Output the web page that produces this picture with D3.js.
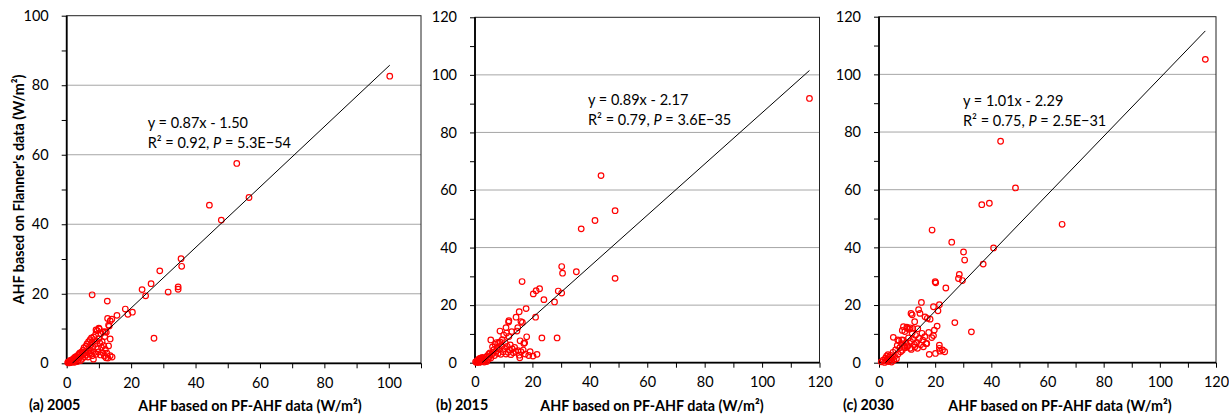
<!DOCTYPE html>
<html>
<head>
<meta charset="utf-8">
<script src="https://cdn.jsdelivr.net/npm/d3@7"></script>
<style>
body { margin: 0; background: #fff; }
text { font-family: Lato, "Open Sans", sans-serif; fill: #000; }
</style>
</head>
<body>
<script>
// values
var panelNames = ["(a) 2005", "(b) 2015", "(c) 2030"];
var xMax = [110, 120, 120],
    yMax = [100, 120, 120];
var slopes = [0.87, 0.89, 1.01],
    intercepts = [-1.50, -2.17, -2.29];
var eqLabels = ["y = 0.87x - 1.50", "y = 0.89x - 2.17", "y = 1.01x - 2.29"];
var r2Labels = ["0.92", "0.79", "0.75"];
var pLabels = ["5.3E\u221254", "3.6E\u221235", "2.5E\u221231"];
var xTitle = "AHF based on PF-AHF data (W/m\u00b2)",
    yTitle = "AHF based on Flanner's data (W/m\u00b2)";

var points2005 = [
  [100.3, 82.6], [52.8, 57.5], [56.6, 47.7], [44.3, 45.5], [48.0, 41.2],
  [35.5, 30.1], [35.7, 27.9], [28.9, 26.6], [26.2, 22.9], [23.4, 21.2],
  [24.5, 19.4], [34.6, 22.0], [34.6, 21.3], [31.5, 20.5], [7.9, 19.7],
  [12.6, 17.9], [18.2, 15.6], [20.4, 14.7], [19.0, 14.1], [15.6, 13.8],
  [12.7, 12.9], [14.0, 12.7], [13.5, 12.2], [13.0, 11.0], [27.1, 7.2],
  [13.5, 7.0], [14.1, 1.8], [10.0, 10.1], [9.1, 9.6], [11.9, 9.1],
  [0.3, 0.2], [0.5, 0.4], [0.6, 0.1], [0.8, 0.5], [1.0, 0.3], [1.1, 0.8],
  [1.3, 0.2], [1.5, 0.6], [1.6, 1.0], [1.8, 0.4], [2.0, 1.2], [2.1, 0.7],
  [2.3, 1.5], [2.4, 0.3], [2.6, 1.8], [2.8, 0.9], [3.0, 2.0], [3.1, 1.4],
  [3.3, 0.5], [3.5, 2.3], [3.6, 1.1], [3.8, 2.6], [4.0, 1.7], [4.1, 3.0],
  [4.3, 0.8], [4.5, 2.2], [4.7, 3.3], [4.9, 1.4], [5.1, 3.8], [5.2, 2.6],
  [5.4, 4.5], [5.6, 1.9], [5.8, 3.1], [6.0, 4.9], [6.1, 2.4], [6.3, 5.6],
  [6.5, 3.5], [6.6, 1.8], [6.8, 6.2], [7.0, 4.1], [7.1, 2.9], [7.3, 6.8],
  [7.4, 5.3], [7.6, 3.6], [7.7, 7.3], [7.9, 2.2], [8.0, 6.0], [8.1, 4.7],
  [8.3, 1.2], [8.4, 7.6], [8.6, 3.1], [8.8, 5.5], [9.0, 8.3], [9.1, 2.6],
  [9.3, 6.4], [9.5, 9.4], [9.6, 4.2], [9.8, 3.3], [10.0, 7.1], [10.1, 9.9],
  [10.3, 5.8], [10.5, 2.4], [10.6, 8.5], [10.8, 4.6], [11.0, 6.2], [11.2, 3.0],
  [11.3, 9.0], [11.5, 5.1], [11.7, 2.1], [11.8, 7.7], [12.0, 4.0], [12.2, 1.6],
  [12.3, 8.9], [12.5, 2.9], [12.8, 1.5], [13.0, 5.0], [13.2, 10.7], [13.5, 2.2]
];

var points2015 = [
  [116.5, 91.8], [43.9, 65.0], [48.8, 52.8], [41.8, 49.4], [37.0, 46.5],
  [30.2, 33.4], [30.5, 31.1], [35.3, 31.6], [48.8, 29.3], [16.4, 28.2],
  [29.0, 24.9], [30.2, 24.2], [22.5, 25.7], [21.3, 25.0], [20.3, 23.9],
  [24.0, 21.9], [27.7, 21.1], [17.8, 18.8], [15.4, 17.7], [14.3, 15.8],
  [21.1, 15.8], [11.8, 14.6], [11.7, 14.1], [16.0, 14.3], [16.5, 14.0],
  [14.9, 12.2], [10.8, 12.2], [8.7, 11.0], [28.6, 8.6], [23.3, 8.6],
  [18.0, 9.0], [17.0, 6.7], [17.3, 6.9], [15.7, 7.6], [21.6, 2.9],
  [18.7, 2.5], [19.2, 3.8], [20.2, 2.3], [15.6, 1.7], [5.5, 7.9],
  [0.2, 0.3], [0.5, 0.1], [0.7, 0.6], [0.9, 0.2], [1.1, 0.9], [1.2, 0.4],
  [1.4, 1.3], [1.5, 0.1], [1.7, 0.7], [1.9, 1.6], [2.0, 0.3], [2.2, 1.1],
  [2.4, 0.5], [2.6, 1.8], [2.8, 0.8], [3.0, 1.5], [3.2, 0.2], [3.4, 1.0],
  [3.6, 0.6], [3.9, 1.9], [4.1, 0.4], [4.3, 2.4], [4.6, 1.2], [4.8, 3.0],
  [5.0, 2.1], [5.2, 3.4], [5.5, 1.6], [5.8, 2.8], [6.1, 5.5], [6.3, 3.6],
  [6.6, 4.5], [6.8, 2.5], [7.0, 6.4], [7.3, 3.9], [7.5, 7.0], [7.7, 5.2],
  [8.0, 3.2], [8.2, 6.9], [8.5, 4.6], [8.7, 7.2], [9.0, 2.9], [9.2, 5.8],
  [9.5, 8.0], [9.8, 3.8], [10.0, 9.6], [10.3, 4.9], [10.5, 7.0], [10.8, 3.0],
  [11.0, 10.3], [11.2, 5.7], [11.5, 3.6], [11.8, 9.1], [12.0, 4.4], [12.3, 6.2],
  [12.5, 2.8], [12.8, 10.8], [13.0, 4.8], [13.4, 3.5], [13.8, 5.3], [14.2, 3.9],
  [14.6, 11.0], [15.0, 4.2], [15.4, 2.6], [16.0, 3.8], [16.8, 4.4], [17.5, 3.0]
];

var points2030 = [
  [116.2, 105.2], [43.3, 76.8], [48.6, 60.6], [36.6, 54.8], [39.3, 55.3],
  [65.2, 48.0], [18.9, 46.0], [25.9, 41.8], [40.8, 39.8], [30.1, 38.4],
  [30.5, 35.6], [37.1, 34.2], [28.6, 30.6], [28.3, 29.2], [29.7, 28.5],
  [20.0, 28.1], [20.2, 27.7], [23.8, 25.9], [15.1, 20.9], [19.4, 19.4],
  [21.5, 20.1], [21.0, 18.0], [14.1, 18.4], [11.4, 17.1], [11.8, 16.6],
  [14.6, 17.1], [16.4, 15.9], [17.2, 15.4], [18.2, 15.1], [12.7, 14.2],
  [27.0, 13.9], [20.7, 12.7], [32.9, 10.7], [17.7, 10.5], [19.7, 11.3],
  [19.4, 9.4], [18.8, 8.7], [8.7, 12.5], [8.3, 11.2], [10.1, 11.9],
  [11.1, 12.1], [12.0, 11.9], [5.1, 8.8], [6.7, 7.9], [8.1, 7.9],
  [21.5, 6.1], [21.5, 5.0], [17.9, 2.9], [20.1, 3.2], [23.4, 3.8],
  [21.7, 4.0], [22.6, 4.4], [17.0, 6.7], [15.8, 5.5], [13.7, 5.0],
  [12.8, 5.5], [10.1, 5.5], [11.1, 5.0], [9.3, 5.2],
  [0.8, 0.3], [1.5, 0.9], [2.0, 0.1], [2.3, 1.6], [2.5, 0.6], [2.7, 2.3],
  [3.0, 1.2], [3.2, 2.8], [3.4, 0.4], [3.6, 1.9], [3.9, 0.8], [4.2, 2.5],
  [4.5, 0.2], [4.7, 1.5], [5.0, 3.6], [5.3, 0.9], [5.6, 2.2], [5.9, 4.4],
  [6.2, 1.4], [6.5, 6.0], [6.8, 3.0], [7.1, 7.6], [7.4, 5.2], [7.7, 3.8],
  [8.0, 6.6], [8.3, 4.3], [8.6, 7.8], [8.9, 5.7], [9.2, 10.8], [9.6, 6.8],
  [9.9, 12.3], [10.2, 5.9], [10.5, 8.6], [10.8, 11.6], [11.2, 7.4], [11.5, 4.6],
  [11.8, 10.3], [12.2, 8.1], [12.6, 6.3], [13.0, 9.5], [13.4, 7.0], [13.8, 11.8],
  [14.3, 8.4], [14.8, 6.2], [15.3, 10.2], [15.6, 7.8], [16.3, 9.0], [16.8, 6.6]
];

var allPoints = [points2005, points2015, points2030];

// layout of the three plot areas (pixels)
var boxes = [
  { left: 66.7, right: 421, top: 15.7, bottom: 363.3, eqX: 147.7, eqY: 128, titleX: 250, nameX: 29 },
  { left: 475, right: 819.5, top: 17.3, bottom: 362.7, eqX: 588, eqY: 105, titleX: 652, nameX: 436 },
  { left: 879, right: 1216, top: 16.7, bottom: 362.7, eqX: 963, eqY: 105.5, titleX: 1060, nameX: 843 }
];

var svg = d3
    .select("body")
    .append("svg")
    .attr("width", 1229)
    .attr("height", 416)
    .style("background", "#fff");

boxes.forEach(function (b, i) {
    var x = d3.scaleLinear().domain([0, xMax[i]]).range([b.left, b.right]);
    var y = d3.scaleLinear().domain([0, yMax[i]]).range([b.bottom, b.top]);
    var g = svg.append("g");

    g.append("clipPath")
        .attr("id", "clip" + i)
        .append("rect")
        .attr("x", b.left)
        .attr("y", b.top)
        .attr("width", b.right - b.left)
        .attr("height", b.bottom - b.top);

    // gridlines
    g.selectAll(".grid")
        .data(d3.range(20, yMax[i], 20))
        .enter()
        .append("line")
        .attr("x1", b.left)
        .attr("x2", b.right)
        .attr("y1", function (d) { return y(d); })
        .attr("y2", function (d) { return y(d); })
        .attr("stroke", "#a6a6a6")
        .attr("stroke-width", 1);

    // frame top/right
    g.append("rect")
        .attr("x", b.left)
        .attr("y", b.top)
        .attr("width", b.right - b.left)
        .attr("height", b.bottom - b.top)
        .attr("fill", "none")
        .attr("stroke", "#222")
        .attr("stroke-width", 1);

    // axes
    var xAxis = d3.axisBottom(x)
        .tickValues(d3.range(0, xMax[i] + 0.1, 10))
        .tickSize(5)
        .tickFormat(function (d) { return d % 20 === 0 ? d : ""; });
    var yAxis = d3.axisLeft(y)
        .tickValues(d3.range(0, yMax[i] + 0.1, 10))
        .tickSize(5)
        .tickFormat(function (d) { return d % 20 === 0 ? d : ""; });

    var gx = g.append("g")
        .attr("transform", "translate(0," + b.bottom + ")")
        .call(xAxis);
    gx.select(".domain").attr("stroke-width", 1.8).attr("d", "M" + b.left + ",0H" + b.right);
    gx.selectAll("text").attr("font-size", 14.5).attr("dy", "1.15em").style("font-family", "Lato, sans-serif");
    gx.selectAll("line").attr("stroke-width", 1);

    var gy = g.append("g")
        .attr("transform", "translate(" + b.left + ",0)")
        .call(yAxis);
    gy.select(".domain").attr("stroke-width", 1.8).attr("d", "M0," + b.bottom + "V" + b.top);
    gy.selectAll("text").attr("font-size", 14.5).attr("x", -18).style("font-family", "Lato, sans-serif");

    // points
    g.append("g")
        .selectAll("circle")
        .data(allPoints[i])
        .enter()
        .append("circle")
        .attr("cx", function (d) { return x(d[0]); })
        .attr("cy", function (d) { return y(d[1]); })
        .attr("r", 2.8)
        .attr("fill", "none")
        .attr("stroke", "#ff0000")
        .attr("stroke-width", 1.2);

    // trendline
    var xs = allPoints[i].map(function (d) { return d[0]; });
    var x0 = Math.max(d3.min(xs), -intercepts[i] / slopes[i]),
        x1 = d3.max(xs);
    g.append("line")
        .attr("clip-path", "url(#clip" + i + ")")
        .attr("x1", x(x0))
        .attr("y1", y(slopes[i] * x0 + intercepts[i]))
        .attr("x2", x(x1))
        .attr("y2", y(slopes[i] * x1 + intercepts[i]))
        .attr("stroke", "#000")
        .attr("stroke-width", 1);

    // equation
    g.append("text")
        .attr("x", b.eqX)
        .attr("y", b.eqY)
        .attr("font-size", 14.5)
        .text(eqLabels[i]);
    var t2 = g.append("text")
        .attr("x", b.eqX)
        .attr("y", b.eqY + 20)
        .attr("font-size", 14.5);
    t2.append("tspan").text("R\u00b2 = " + r2Labels[i] + ", ");
    t2.append("tspan").attr("font-style", "italic").text("P");
    t2.append("tspan").text(" = " + pLabels[i]);

    // titles
    g.append("text")
        .attr("x", b.titleX)
        .attr("y", 411)
        .attr("text-anchor", "middle")
        .attr("font-size", 14.3)
        .attr("font-weight", "bold")
        .text(xTitle);
    g.append("text")
        .attr("x", b.nameX)
        .attr("y", 410)
        .attr("font-size", 14.3)
        .attr("font-weight", "bold")
        .text(panelNames[i]);

    if (i === 0) {
        g.append("text")
            .attr("transform", "translate(24," + (b.top + b.bottom) / 2 + ") rotate(-90)")
            .attr("text-anchor", "middle")
            .attr("font-size", 14.3)
            .attr("font-weight", "bold")
            .text(yTitle);
    }
});
</script>
</body>
</html>
